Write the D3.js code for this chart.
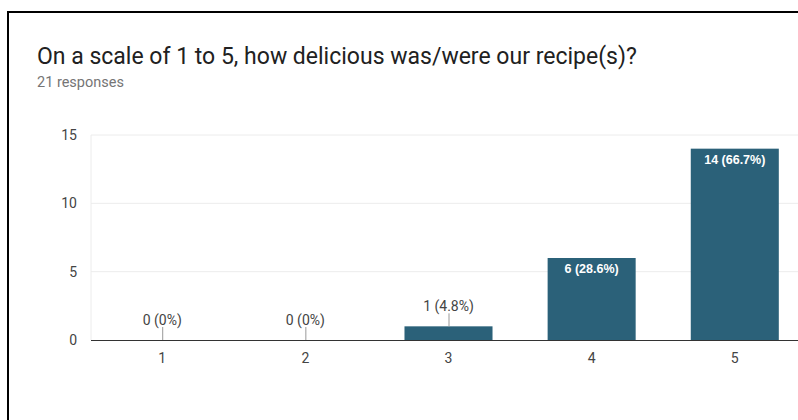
<!DOCTYPE html>
<html>
<head>
<meta charset="utf-8">
<script src="https://cdn.jsdelivr.net/npm/d3@7"></script>
<style>
  html, body { margin: 0; padding: 0; background: #fff; }
  svg { display: block; font-family: Roboto, "Noto Sans", Arial, sans-serif; }
</style>
</head>
<body>
<svg id="chart" width="798" height="420"></svg>
<script>
// Survey results: rating 1..5 and number of responses
const categories = ["1", "2", "3", "4", "5"];
const counts = [0, 0, 1, 6, 14];
const percentLabels = ["0%", "0%", "4.8%", "28.6%", "66.7%"];
const yTicks = [0, 5, 10, 15];
const title = "On a scale of 1 to 5, how delicious was/were our recipe(s)?";
const subtitle = "21 responses";

const svg = d3.select("#chart");

// card frame
svg.append("path")
  .attr("d", "M8,420 L8,12 L798,12")
  .attr("fill", "none")
  .attr("stroke", "#000")
  .attr("stroke-width", 2);

svg.append("text")
  .attr("x", 37).attr("y", 64)
  .attr("font-size", 23)
  .attr("fill", "#212121")
  .text(title);

svg.append("text")
  .attr("x", 37).attr("y", 87)
  .attr("font-size", 14.5)
  .attr("fill", "#757575")
  .text(subtitle);

const plotLeft = 91, plotTop = 135, plotBottom = 340, step = 143;
const x = d3.scaleBand()
  .domain(categories)
  .range([plotLeft, plotLeft + step * categories.length])
  .paddingInner(0.385)
  .paddingOuter(0.19);
const y = d3.scaleLinear().domain([0, 15]).range([plotBottom, plotTop]);

// gridlines
const grid = svg.append("g");
grid.selectAll("line")
  .data(yTicks.filter(t => t > 0))
  .join("line")
  .attr("x1", plotLeft).attr("x2", 798)
  .attr("y1", d => y(d)).attr("y2", d => y(d))
  .attr("stroke", "#ececec");
grid.append("line")
  .attr("x1", plotLeft).attr("x2", plotLeft)
  .attr("y1", plotTop).attr("y2", plotBottom)
  .attr("stroke", "#ececec");

// y axis labels
const yAxis = svg.append("g")
  .attr("transform", `translate(${plotLeft - 14},0)`)
  .call(d3.axisLeft(y).tickValues(yTicks).tickSize(0).tickPadding(0));
yAxis.select(".domain").remove();
yAxis.selectAll("text")
  .attr("font-size", 14)
  .attr("font-family", "Roboto, Arial, sans-serif")
  .attr("fill", "#444");

// bars
const data = categories.map((c, i) => ({ c, v: counts[i], p: percentLabels[i] }));
svg.append("g").selectAll("rect")
  .data(data.filter(d => d.v > 0))
  .join("rect")
  .attr("x", d => x(d.c))
  .attr("width", x.bandwidth())
  .attr("y", d => y(d.v))
  .attr("height", d => y(0) - y(d.v))
  .attr("fill", "#2b6179");

// baseline
svg.append("line")
  .attr("x1", plotLeft).attr("x2", 798)
  .attr("y1", plotBottom + 0.5).attr("y2", plotBottom + 0.5)
  .attr("stroke", "#333");

// x axis labels
const xAxis = svg.append("g")
  .attr("transform", `translate(0,${plotBottom})`)
  .call(d3.axisBottom(x).tickSize(0).tickPadding(13));
xAxis.select(".domain").remove();
xAxis.selectAll("text")
  .attr("font-size", 14)
  .attr("font-family", "Roboto, Arial, sans-serif")
  .attr("fill", "#444");

// value labels: inside tall bars, above short bars with a leader line
const labels = svg.append("g")
  .attr("text-anchor", "middle");
data.forEach(d => {
  const cx = x(d.c) + x.bandwidth() / 2;
  const txt = `${d.v} (${d.p})`;
  const h = y(0) - y(d.v);
  if (h > 30) {
    labels.append("text")
      .attr("x", cx).attr("y", y(d.v) + 15)
      .attr("fill", "#fff")
      .attr("font-weight", "bold")
      .attr("font-family", "Arial, 'Liberation Sans', sans-serif")
      .attr("font-size", 12.5)
      .text(txt);
  } else {
    labels.append("line")
      .attr("x1", cx + 0.5).attr("x2", cx + 0.5)
      .attr("y1", y(d.v) - 13).attr("y2", y(d.v))
      .attr("stroke", "#999");
    labels.append("text")
      .attr("x", cx).attr("y", y(d.v) - 15)
      .attr("fill", "#444")
      .attr("font-size", 14)
      .text(txt);
  }
});
</script>
</body>
</html>
